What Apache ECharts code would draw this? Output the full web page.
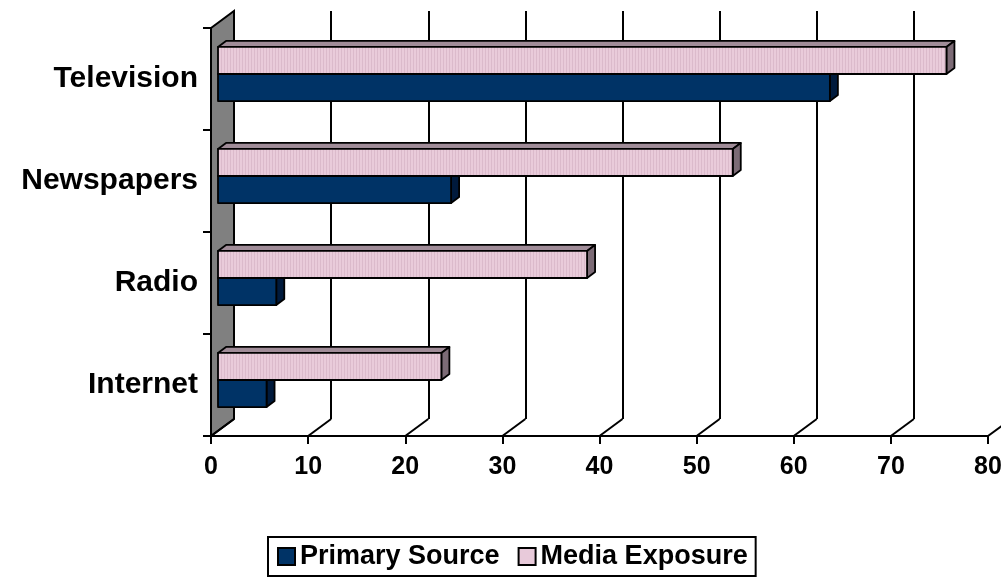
<!DOCTYPE html>
<html>
<head>
<meta charset="utf-8">
<script src="https://cdn.jsdelivr.net/npm/echarts@6/dist/echarts.min.js"></script>
<style>
  html, body { margin: 0; padding: 0; background: #fff; }
  #chart { width: 1001px; height: 581px; }
</style>
</head>
<body>
<div id="chart"></div>
<script>
  // data
  var categories = ['Television', 'Newspapers', 'Radio', 'Internet'];
  var primarySource = [63, 24, 6, 5];
  var mediaExposure = [75, 53, 38, 23];
  var xTicks = [0, 10, 20, 30, 40, 50, 60, 70, 80];

  // depth of the fake 3d box (px)
  var DX = 23, DY = -17;
  // bar offset into the depth, and bar thickness in depth
  var BX = 7, BY = -5, TX = 8, TY = -6;

  // striped pink fill
  var pat = document.createElement('canvas');
  pat.width = 3; pat.height = 4;
  var pc = pat.getContext('2d');
  pc.fillStyle = '#E9CBDA'; pc.fillRect(0, 0, 3, 4);
  pc.fillStyle = '#DBBACB'; pc.fillRect(2, 0, 1, 4);

  function barRender(front, top, side, upper) {
    return function (params, api) {
      var v = api.value(0), c = api.value(1);
      var p0 = api.coord([0, c]);
      var p1 = api.coord([v, c]);
      var band = api.size([0, 1])[1];
      var h = band * 0.265;
      var x0 = p0[0] + BX, x1 = p1[0] + BX;
      var cy = p0[1] + BY;
      var y0 = upper ? cy - h : cy;
      var y1 = upper ? cy : cy + h;
      var ln = { stroke: '#000', lineWidth: 1.8, lineJoin: 'round' };
      return {
        type: 'group',
        children: [
          { type: 'polygon', shape: { points: [[x0, y0], [x0 + TX, y0 + TY], [x1 + TX, y0 + TY], [x1, y0]] },
            style: Object.assign({ fill: top }, ln) },
          { type: 'polygon', shape: { points: [[x1, y0], [x1 + TX, y0 + TY], [x1 + TX, y1 + TY], [x1, y1]] },
            style: Object.assign({ fill: side }, ln) },
          { type: 'rect', shape: { x: x0, y: y0, width: x1 - x0, height: y1 - y0 },
            style: Object.assign({ fill: front }, ln) }
        ]
      };
    };
  }

  var chart = echarts.init(document.getElementById('chart'));
  var font = 'Liberation Sans, Arial, sans-serif';

  chart.setOption({
    animation: false,
    backgroundColor: '#fff',
    grid: [
      { left: 211, top: 28, width: 777, height: 408, outerBoundsMode: 'none' },   // front plane
      { left: 234, top: 11, width: 777, height: 408, outerBoundsMode: 'none' }    // back plane (gridlines)
    ],
    xAxis: [
      {
        gridIndex: 0, type: 'value', min: 0, max: 80, interval: 10,
        axisLine: { show: true, lineStyle: { color: '#000', width: 2 } },
        axisTick: { show: true, length: 8, lineStyle: { color: '#000', width: 2 } },
        splitLine: { show: false },
        axisLabel: { color: '#000', fontSize: 25, fontWeight: 'bold', fontFamily: font, margin: 19 }
      },
      {
        gridIndex: 1, type: 'value', min: 0, max: 80, interval: 10,
        axisLine: { show: false }, axisTick: { show: false }, axisLabel: { show: false },
        splitLine: { show: true, lineStyle: { color: '#000', width: 2 } }
      }
    ],
    yAxis: [
      {
        gridIndex: 0, type: 'category', data: categories, inverse: true,
        axisLine: { show: true, lineStyle: { color: '#000', width: 2 } },
        axisTick: { show: true, length: 8, lineStyle: { color: '#000', width: 2 } },
        splitLine: { show: false },
        axisLabel: { color: '#000', fontSize: 30, fontWeight: 'bold', fontFamily: font, margin: 13 }
      },
      {
        gridIndex: 1, type: 'category', data: categories, inverse: true,
        axisLine: { show: false }, axisTick: { show: false }, axisLabel: { show: false },
        splitLine: { show: false }
      }
    ],
    legend: {
      data: ['Primary Source', 'Media Exposure'],
      left: 268, top: 537,
      orient: 'horizontal',
      icon: 'rect',
      itemWidth: 17, itemHeight: 17, itemGap: 18,
      padding: [6, 8, 6, 9],
      borderColor: '#000', borderWidth: 2,
      textStyle: { color: '#000', fontSize: 27, fontWeight: 'bold', fontFamily: font, padding: [0, 0, 0, 0] }
    },
    series: [
      {
        // left wall
        type: 'custom', name: 'wall', silent: true,
        data: [[0]],
        renderItem: function (params, api) {
          var band = api.size([0, 1])[1];
          var t = api.coord([0, 0]), b = api.coord([0, categories.length - 1]);
          var x = t[0], yT = t[1] - band / 2, yB = b[1] + band / 2;
          return { type: 'polygon',
            shape: { points: [[x, yT], [x + DX, yT + DY], [x + DX, yB + DY], [x, yB]] },
            style: { fill: '#808080', stroke: '#000', lineWidth: 2 } };
        }
      },
      {
        // floor diagonals from front ticks to the back gridlines
        type: 'custom', name: 'floor', silent: true,
        data: xTicks.map(function (v) { return [v]; }),
        renderItem: function (params, api) {
          var band = api.size([0, 1])[1];
          var p = api.coord([api.value(0), categories.length - 1]);
          var y = p[1] + band / 2;
          return { type: 'line',
            shape: { x1: p[0], y1: y, x2: p[0] + DX, y2: y + DY },
            style: { stroke: '#000', lineWidth: 2 } };
        }
      },
      {
        type: 'custom', name: 'Primary Source',
        itemStyle: { color: '#003366', borderColor: '#000', borderWidth: 1.5 },
        data: primarySource.map(function (v, i) { return [v, i]; }),
        renderItem: barRender('#003366', '#002550', '#001A3C', false)
      },
      {
        type: 'custom', name: 'Media Exposure',
        itemStyle: { color: '#E8CADA', borderColor: '#000', borderWidth: 1.5 },
        data: mediaExposure.map(function (v, i) { return [v, i]; }),
        renderItem: barRender({ image: pat, repeat: 'repeat' }, '#A08C98', '#7C6B76', true)
      }
    ]
  });
</script>
</body>
</html>
